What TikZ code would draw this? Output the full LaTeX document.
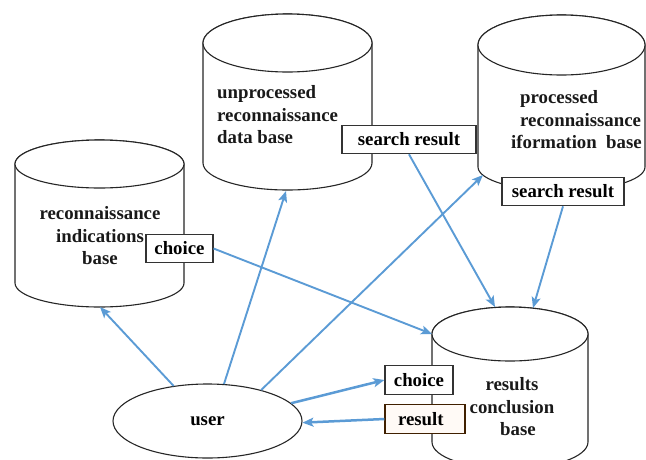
\documentclass[tikz,border=0pt]{standalone}
\usepackage{fontspec}
\setmainfont{Liberation Serif}
\usetikzlibrary{arrows.meta,shapes.geometric}
\definecolor{arrowblue}{HTML}{5B9BD5}
\definecolor{boxline}{HTML}{333333}
\definecolor{peach}{HTML}{FFFAF6}
\begin{document}
\newcommand\dbcyl[6]{\filldraw[cyl] ({#1-#2},-#3) -- ({#1-#2},-#5) arc[start angle=180,end angle=360,x radius=#2,y radius=#6] -- ({#1+#2},-#3) arc[start angle=0,end angle=180,x radius=#2,y radius=#4] -- cycle; \draw[cyl] (#1,-#3) ellipse[x radius=#2, y radius=#4];}
\begin{tikzpicture}[x=1pt,y=1pt,
  cyl/.style={draw=black!85, fill=white, line width=1.1pt},
  lbl/.style={font=\fontsize{18.8}{22.5}\selectfont\bfseries, inner sep=0pt, text=black!90},
  tagbox/.style={draw=boxline, fill=white, line width=1.1pt, inner sep=0pt, minimum height=28.5pt,
     font=\fontsize{18.8}{22.5}\selectfont\bfseries},
  arr/.style={draw=arrowblue, line width=1.9pt, -{Stealth[length=11pt,width=9pt,inset=2.5pt]}},
  arrb/.style={arr, line width=2.5pt}]
\useasboundingbox (0,0) rectangle (646,-459);
\dbcyl{99.5}{84.5}{164}{24}{283}{24}
\dbcyl{287.5}{84.5}{43}{29}{163}{27}
\dbcyl{561.5}{83.5}{45}{30}{167}{24}
\dbcyl{510}{78}{334}{27}{442}{27}
\node[lbl, align=center] (t1) at (100,-236) {reconnaissance\\indications\\base};
\node[lbl, align=left, anchor=west] (t2) at (217,-115) {unprocessed\\reconnaissance\\data base};
\node[lbl, align=left, anchor=west] (t3) at (511,-120) {\hspace*{9pt}processed\\\hspace*{9pt}reconnaissance\\iformation\ \ base};
\node[lbl, align=center] (t4) at (512,-407) {results\\conclusion\\\hspace*{12pt}base};
\node[ellipse, draw=black!85, line width=1.1pt, fill=white, minimum width=189pt, minimum height=74pt, inner sep=0pt,
      font=\fontsize{18.8}{22.5}\selectfont\bfseries] (user) at (207.5,-421) {user};
\coordinate (c1b) at (100,-307);
\coordinate (c2b) at (286,-191);
\coordinate (c3b) at (483,-175);
\coordinate (c4l) at (432,-334);
\coordinate (c4a) at (495,-307);
\coordinate (c4b) at (533,-308);
\node[tagbox, minimum width=67pt] (choiceA) at (179.5,-248.5) {choice};
\node[tagbox, minimum width=134pt] (searchA) at (409,-139.5) {search result};
\node[tagbox, minimum width=122pt] (searchB) at (563,-191.5) {search result};
\node[tagbox, minimum width=68pt] (choiceB) at (419,-380) {choice};
\node[tagbox, minimum width=80pt, fill=peach, draw=black!75!orange, text width=80pt, align=left] (resultB) at (425,-419) {\hspace*{13pt}result};
\draw[arr] (user.134) -- (c1b);
\draw[arr] (user.66) -- (c2b);
\draw[arr] (user.30) -- (c3b);
\draw[arrb] (user.12) -- (choiceB.west);
\draw[arrb] (resultB.west) -- (user.-1);
\draw[arr] (choiceA.east) -- (c4l);
\draw[arr] (searchA.south) -- (c4a);
\draw[arr] (searchB.south) -- (c4b);
\end{tikzpicture}
\end{document}
